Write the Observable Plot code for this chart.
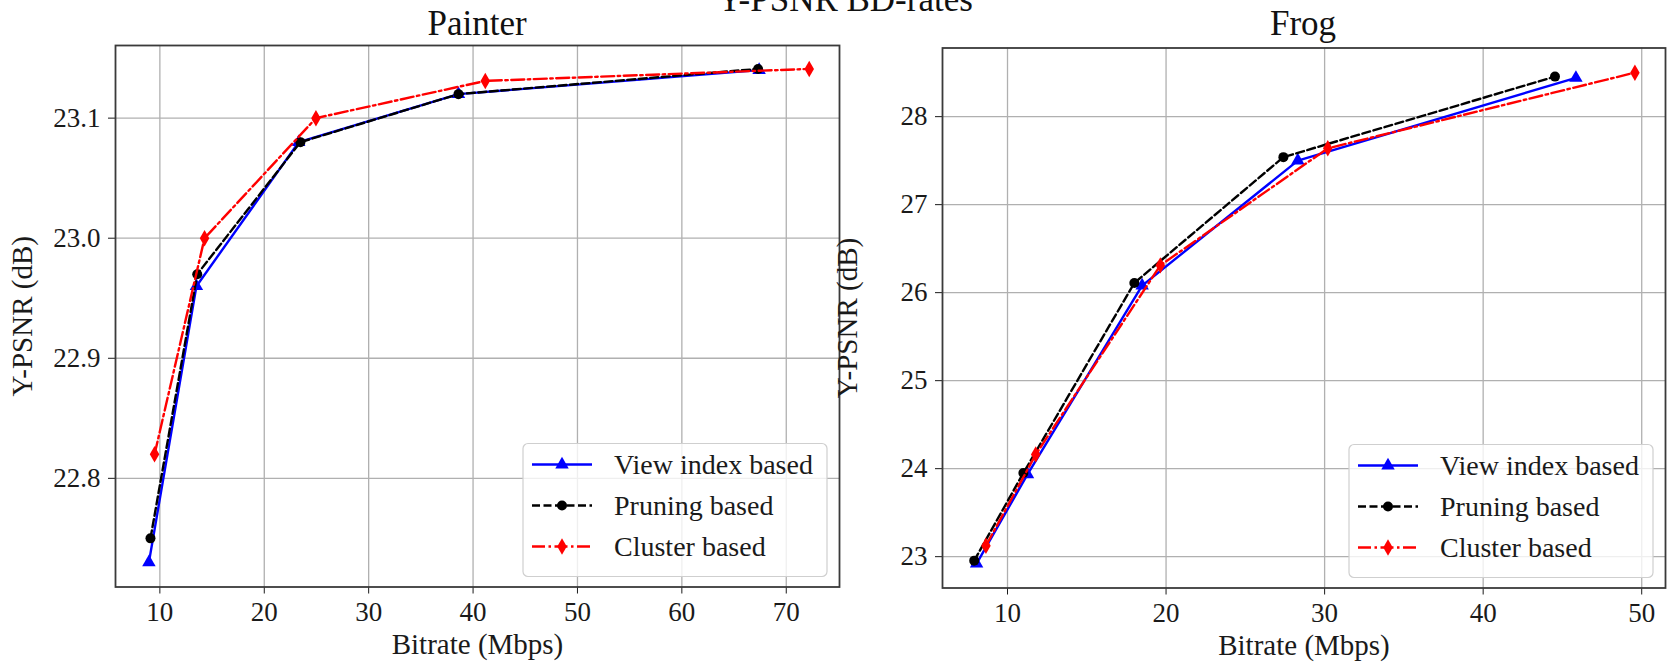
<!DOCTYPE html>
<html>
<head>
<meta charset="utf-8">
<script src="https://cdn.jsdelivr.net/npm/d3@7"></script>
<script src="https://cdn.jsdelivr.net/npm/@observablehq/plot@0.6"></script>
<style>
  html, body { margin: 0; padding: 0; background: #fff; }
  #wrap { position: relative; width: 1667px; height: 662px; overflow: hidden; font-family: "Liberation Serif", "Times New Roman", serif; color: #111; }
  #wrap svg { position: absolute; top: 0; overflow: visible; max-width: none; }
  .ttl { position: absolute; white-space: nowrap; transform: translateX(-50%); line-height: 35px; font-size: 35px; }
</style>
</head>
<body>
<div id="wrap"></div>
<script>
// ---------- data ----------
const seriesNames = ["View index based", "Pruning based", "Cluster based"];
const mainTitle = "Y-PSNR BD-rates";
const panelTitles = ["Painter", "Frog"];
const xAxisLabel = "Bitrate (Mbps)";
const yAxisLabel = "Y-PSNR (dB)";

// Painter
const painterViewRate    = [8.95, 13.5, 23.3, 38.6, 67.4];
const painterViewPsnr    = [22.73, 22.96, 23.08, 23.12, 23.14];
const painterPruneRate   = [9.1, 13.58, 23.46, 38.6, 67.3];
const painterPrunePsnr   = [22.75, 22.97, 23.08, 23.12, 23.141];
const painterClusterRate = [9.49, 14.28, 24.95, 41.17, 72.2];
const painterClusterPsnr = [22.82, 23.0, 23.1, 23.131, 23.141];
const painterXTicks = [10, 20, 30, 40, 50, 60, 70];
const painterYTicks = [22.8, 22.9, 23.0, 23.1];

// Frog
const frogViewRate    = [8.05, 11.26, 18.49, 28.31, 45.85];
const frogViewPsnr    = [22.92, 23.935, 26.08, 27.5, 28.44];
const frogPruneRate   = [7.9, 11.0, 18.0, 27.4, 44.53];
const frogPrunePsnr   = [22.955, 23.95, 26.11, 27.54, 28.455];
const frogClusterRate = [8.64, 11.78, 19.64, 30.2, 49.57];
const frogClusterPsnr = [23.125, 24.16, 26.31, 27.64, 28.50];
const frogXTicks = [10, 20, 30, 40, 50];
const frogYTicks = [23, 24, 25, 26, 27, 28];

// ---------- styling ----------
const FONT = "'Liberation Serif', 'Times New Roman', serif";
const seriesStyle = [
  {color: "#0000ff", dash: null,               symbol: "triangle", d3sym: d3.symbolTriangle},
  {color: "#000000", dash: "8,3.5",            symbol: "circle",   d3sym: d3.symbolCircle},
  {color: "#ff0000", dash: "13,3.5,2.5,3.5",   symbol: "diamond",  d3sym: d3.symbolDiamond}
];
const R = 5;

function rows(name, xs, ys) {
  return xs.map((x, i) => ({series: name, rate: x, psnr: ys[i]}));
}

const wrap = document.getElementById("wrap");

function addTitle(text, cx, top) {
  const d = document.createElement("div");
  d.className = "ttl";
  d.textContent = text;
  d.style.left = cx + "px";
  d.style.top = top + "px";
  wrap.appendChild(d);
}

function drawPanel(cfg) {
  const H = 662;
  const marks = [
    Plot.ruleX(cfg.xTicks, {stroke: "#b0b0b0", strokeWidth: 1.3}),
    Plot.ruleY(cfg.yTicks, {stroke: "#b0b0b0", strokeWidth: 1.3})
  ];
  cfg.series.forEach((data, i) => {
    const s = seriesStyle[i];
    marks.push(Plot.line(data, {x: "rate", y: "psnr", stroke: s.color, strokeWidth: 2.4,
      strokeDasharray: s.dash || undefined}));
    marks.push(Plot.dot(data, {x: "rate", y: "psnr", symbol: s.symbol, fill: s.color, stroke: "none", r: R}));
  });
  marks.push(Plot.frame({stroke: "#3a3a3a", strokeWidth: 1.8}));

  const svg = Plot.plot({
    width: cfg.width, height: H,
    marginLeft: cfg.mL, marginRight: cfg.mR, marginTop: cfg.mT, marginBottom: cfg.mB,
    style: {fontSize: "27px", fontFamily: FONT, background: "transparent", color: "#1a1a1a", overflow: "visible"},
    x: {domain: cfg.xDomain, ticks: cfg.xTicks, tickFormat: d => String(d), tickSize: 7, tickPadding: 8,
        label: xAxisLabel, labelAnchor: "center", labelOffset: cfg.xLabelOffset, labelArrow: false},
    y: {domain: cfg.yDomain, ticks: cfg.yTicks, tickFormat: cfg.yFmt, tickSize: 7, tickPadding: 8,
        label: yAxisLabel, labelAnchor: "center", labelOffset: cfg.yLabelOffset, labelArrow: false},
    marks
  });
  svg.style.left = cfg.left + "px";
  svg.style.fontFamily = FONT;
  wrap.appendChild(svg);

  const sel = d3.select(svg);
  sel.selectAll("g").each(function() {
    if (this.getAttribute("font-family")) this.setAttribute("font-family", FONT);
  });
  sel.selectAll("text").style("font-family", FONT);
  sel.selectAll("text").filter(function() {
    const p = this.closest("g[aria-label]");
    return p && /axis label/.test(p.getAttribute("aria-label"));
  }).style("font-size", "29px");

  // legend in lower-right corner of the frame
  const frameRight = cfg.width - cfg.mR, frameBottom = H - cfg.mB;
  const w = 304, h = 133;
  const x0 = frameRight - 12 - w, y0 = frameBottom - 10 - h;
  const g = sel.append("g").attr("font-family", FONT).attr("font-size", 28)
    .attr("fill", "#1a1a1a").attr("text-anchor", "start");
  g.append("rect").attr("x", x0).attr("y", y0).attr("width", w).attr("height", h).attr("rx", 5)
    .attr("fill", "white").attr("fill-opacity", 0.8).attr("stroke", "#cfcfcf").attr("stroke-width", 1.2);
  seriesNames.forEach((name, i) => {
    const s = seriesStyle[i];
    const cy = y0 + 21 + 41 * i;
    g.append("line").attr("x1", x0 + 9).attr("x2", x0 + 69).attr("y1", cy).attr("y2", cy)
      .attr("stroke", s.color).attr("stroke-width", 2.4).attr("stroke-dasharray", s.dash || null);
    g.append("path").attr("d", d3.symbol(s.d3sym, Math.PI * R * R)())
      .attr("transform", `translate(${x0 + 39},${cy})`).attr("fill", s.color);
    g.append("text").attr("x", x0 + 91).attr("y", cy).attr("dy", "0.35em")
      .attr("text-anchor", "start").style("font-family", FONT).text(name);
  });
}

// Painter panel
drawPanel({
  left: 0, width: 845, mL: 115, mR: 6, mT: 45, mB: 75.5,
  xDomain: [5.75, 75.1], yDomain: [22.7095, 23.1605],
  xTicks: painterXTicks, yTicks: painterYTicks, yFmt: d3.format(".1f"),
  xLabelOffset: 67, yLabelOffset: 104,
  series: [
    rows(seriesNames[0], painterViewRate, painterViewPsnr),
    rows(seriesNames[1], painterPruneRate, painterPrunePsnr),
    rows(seriesNames[2], painterClusterRate, painterClusterPsnr)
  ]
});

// Frog panel
drawPanel({
  left: 760, width: 907, mL: 182, mR: 2, mT: 47.5, mB: 74.5,
  xDomain: [5.9, 51.5], yDomain: [22.644, 28.78],
  xTicks: frogXTicks, yTicks: frogYTicks, yFmt: d3.format("d"),
  xLabelOffset: 67, yLabelOffset: 106,
  series: [
    rows(seriesNames[0], frogViewRate, frogViewPsnr),
    rows(seriesNames[1], frogPruneRate, frogPrunePsnr),
    rows(seriesNames[2], frogClusterRate, frogClusterPsnr)
  ]
});

addTitle(mainTitle, 845, -18);
addTitle(panelTitles[0], 477, 6);
addTitle(panelTitles[1], 1303, 6);
</script>
</body>
</html>
